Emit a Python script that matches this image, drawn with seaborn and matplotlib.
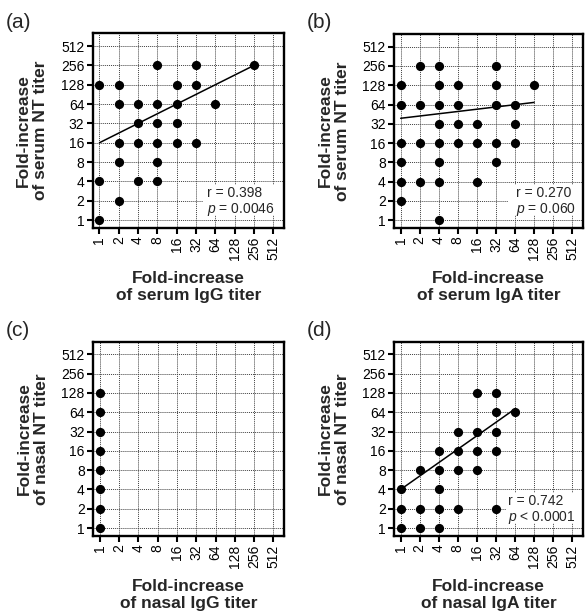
import seaborn as sns
import matplotlib.pyplot as plt
from matplotlib.patches import Rectangle
from matplotlib.ticker import NullLocator

sns.set_style('ticks')
plt.rcParams['font.family'] = ['Liberation Sans', 'DejaVu Sans']
plt.rcParams['mathtext.fontset'] = 'custom'
plt.rcParams['mathtext.rm'] = 'Liberation Sans'
plt.rcParams['mathtext.it'] = 'Liberation Sans:italic'

titers = [1, 2, 4, 8, 16, 32, 64, 128, 256, 512]
tick_labels = [str(t) for t in titers]

# (a) serum IgG vs serum NT
a_x = [1, 1, 1, 2, 2, 2, 2, 2, 4, 4, 4, 4, 8, 8, 8, 8, 8, 8,
       16, 16, 16, 16, 32, 32, 32, 64, 256]
a_y = [128, 4, 1, 128, 64, 16, 8, 2, 64, 32, 16, 4, 256, 64, 32, 16, 8, 4,
       128, 64, 32, 16, 256, 128, 16, 64, 256]
a_fit_x = [1, 256]
a_fit_y = [16, 256]

# (b) serum IgA vs serum NT
b_x = [1, 1, 1, 1, 1, 1, 2, 2, 2, 2, 4, 4, 4, 4, 4, 4, 4, 4,
       8, 8, 8, 8, 16, 16, 16, 32, 32, 32, 32, 32, 64, 64, 64, 128]
b_y = [128, 64, 16, 8, 4, 2, 256, 64, 16, 4, 256, 128, 64, 32, 16, 8, 4, 1,
       128, 64, 32, 16, 32, 16, 4, 256, 128, 64, 16, 8, 64, 32, 16, 128]
b_fit_x = [1, 128]
b_fit_y = [39, 69]

# (c) nasal IgG vs nasal NT
c_x = [1, 1, 1, 1, 1, 1, 1, 1]
c_y = [128, 64, 32, 16, 8, 4, 2, 1]

# (d) nasal IgA vs nasal NT
d_x = [1, 1, 1, 2, 2, 2, 4, 4, 4, 4, 4, 8, 8, 8, 8,
       16, 16, 16, 16, 32, 32, 32, 32, 32, 64]
d_y = [4, 2, 1, 8, 2, 1, 16, 8, 4, 2, 1, 32, 16, 8, 2,
       128, 32, 16, 8, 128, 64, 32, 16, 2, 64]
d_fit_x = [1, 64]
d_fit_y = [4, 72]

panels = [
    ('(a)', a_x, a_y, a_fit_x, a_fit_y, 'serum IgG', 'serum NT', ['r = 0.398', '$p$ = 0.0046']),
    ('(b)', b_x, b_y, b_fit_x, b_fit_y, 'serum IgA', 'serum NT', ['r = 0.270', '$p$ = 0.060']),
    ('(c)', c_x, c_y, None, None, 'nasal IgG', 'nasal NT', None),
    ('(d)', d_x, d_y, d_fit_x, d_fit_y, 'nasal IgA', 'nasal NT', ['r = 0.742', '$p$ < 0.0001']),
]

# axes boxes in pixels: left, top, right, bottom
W, H = 586, 616
boxes = [(92.7, 33.3, 284.3, 228), (394, 34, 583, 228),
         (93, 341.5, 284.5, 536), (394, 341.5, 583, 536)]
# stats box: rect x0, text x0
stat_pos = [(0.576, 0.597), (0.603, 0.645), None, (0.590, 0.603)]

fig = plt.figure(figsize=(W / 100, H / 100), dpi=100)

for i, (tag, xs, ys, fx, fy, xname, yname, stats) in enumerate(panels):
    l, t, r, b = boxes[i]
    ax = fig.add_axes([l / W, 1 - b / H, (r - l) / W, (b - t) / H])

    sns.scatterplot(x=xs, y=ys, ax=ax, s=44, color='black', edgecolor='black',
                    linewidth=0, zorder=5)
    if fx is not None:
        sns.lineplot(x=fx, y=fy, ax=ax, color='black', linewidth=1.1, zorder=4)

    ax.set_xscale('log', base=2)
    ax.set_yscale('log', base=2)
    ax.set_xlim(2 ** -0.35, 2 ** 9.57)
    ax.set_ylim(2 ** -0.41, 2 ** 9.66)
    ax.set_xticks(titers)
    ax.set_xticklabels(tick_labels, rotation=90)
    ax.set_yticks(titers)
    ax.set_yticklabels(tick_labels)
    ax.xaxis.set_minor_locator(NullLocator())
    ax.yaxis.set_minor_locator(NullLocator())

    ax.grid(True, color='0.25', linestyle=(0, (1, 1)), linewidth=0.7)
    ax.set_axisbelow(True)
    for sp in ax.spines.values():
        sp.set_linewidth(1.7)
        sp.set_color('black')
    ax.tick_params(direction='out', length=4.5, width=1.5, labelsize=10,
                   pad=1.5, colors='black')

    ax.set_xlabel(f'Fold-increase\nof {xname} titer', fontsize=12.5,
                  fontweight='bold', labelpad=8, linespacing=1.15)
    ax.set_ylabel(f'Fold-increase\nof {yname} titer', fontsize=12.5,
                  fontweight='bold', labelpad=9, linespacing=1.2)

    if stats is not None:
        rx, tx = stat_pos[i]
        ax.add_patch(Rectangle((rx, 0.065), 1 - rx, 0.155, transform=ax.transAxes,
                               facecolor='white', edgecolor='none', zorder=2))
        ax.text(tx, 0.18, stats[0], transform=ax.transAxes, fontsize=10,
                va='center', ha='left', zorder=3)
        ax.text(tx, 0.093, stats[1], transform=ax.transAxes, fontsize=10,
                va='center', ha='left', zorder=3)

    fig.text((l - 87) / W, 1 - (t - 11) / H, tag, fontsize=15, va='center', ha='left')

fig.savefig('out.png', dpi=100)
